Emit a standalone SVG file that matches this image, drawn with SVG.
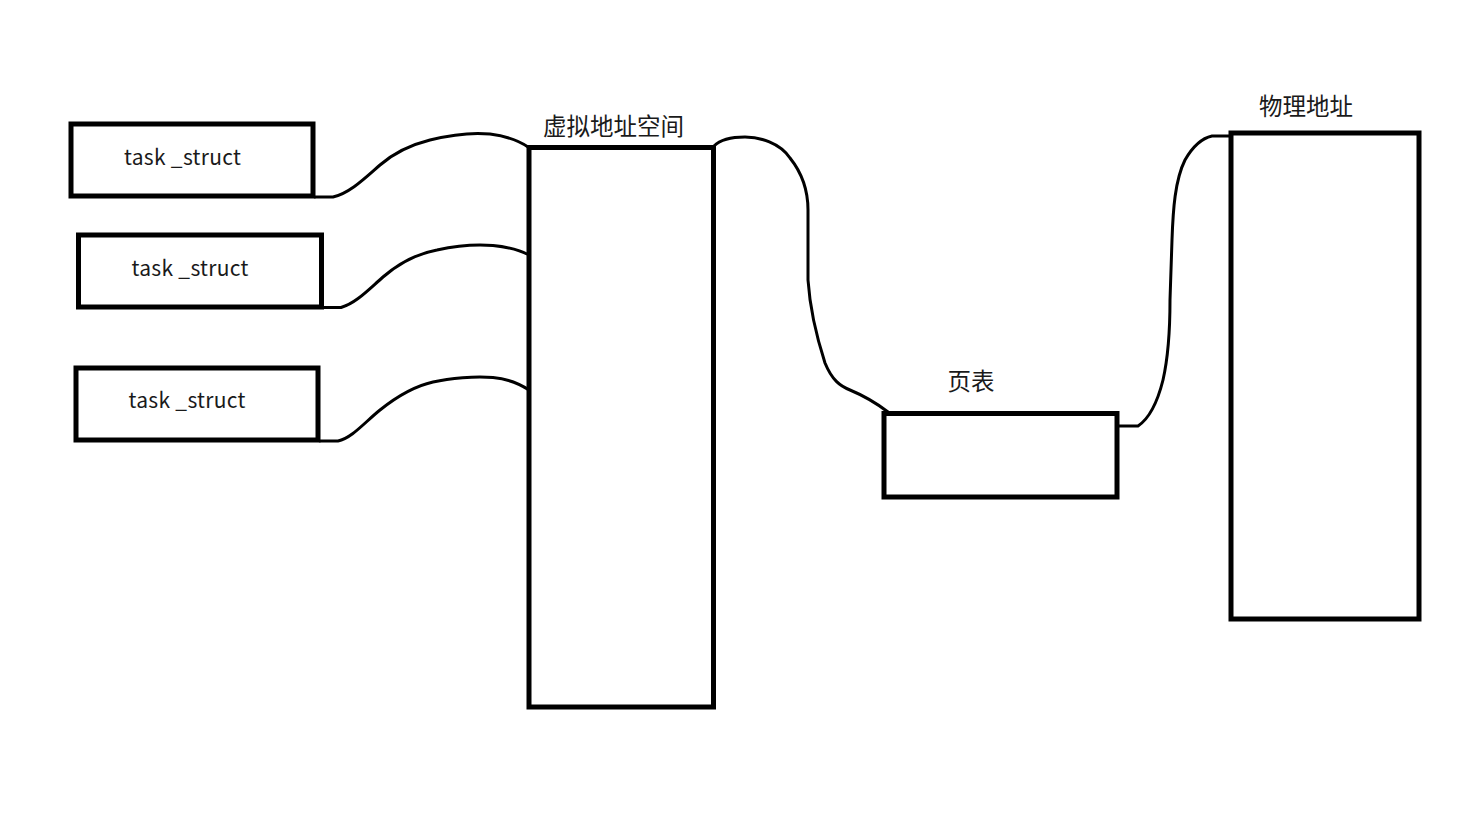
<svg xmlns="http://www.w3.org/2000/svg" width="1472" height="821" viewBox="0 0 1472 821">
<style>
.box{fill:#fff;stroke:#000;stroke-width:5}
.lbl{font-family:"Noto Sans CJK SC","Noto Sans",sans-serif;fill:#1a1a1a;text-anchor:middle}
.t{font-size:21px}
.c{font-size:23.5px}
.wire{fill:none;stroke:#000;stroke-width:3;stroke-linejoin:round;stroke-linecap:round}
</style>
<rect width="1472" height="821" fill="#fff"/>
<g id="connectors">
<path class="wire" d="M315,197 L333,197 C350,193 365,178 380,165 C395,152 410,145 430,140 C450,135 470,132 490,134 C505,136 518,140 528,147"/>
<path class="wire" d="M322,307.5 L341,307.5 C356,303 368,290 383,277 C398,264 415,254 437,250 C455,246 475,244 493,245.5 C508,247 520,250 529,255"/>
<path class="wire" d="M320,441 L338,441 C352,438 365,422 380,410 C395,398 415,386 433,382 C450,378 475,376 493,377.5 C508,379 520,384 529,390"/>
<path class="wire" d="M714,146 C720,140 730,137 745,137 C760,137 780,143 790,158 C802,173 808,190 808,210 L808,280 C810,310 816,335 825,363 C832,380 840,386 850,390 C862,395 875,402 888,412"/>
<path class="wire" d="M1119,426 L1138,426 C1150,418 1158,400 1163,380 C1168,358 1170,330 1170,300 L1172,240 C1173,210 1175,180 1185,160 C1193,146 1203,138 1212,136 L1229,136"/>
</g>
<g id="task1">
<rect class="box" x="71" y="124" width="242" height="72"/>
<text class="lbl t" x="182.5" y="165" textLength="117">task _struct</text>
</g>
<g id="task2">
<rect class="box" x="78.5" y="235" width="243" height="72"/>
<text class="lbl t" x="190" y="276" textLength="117">task _struct</text>
</g>
<g id="task3">
<rect class="box" x="76" y="368" width="242" height="72"/>
<text class="lbl t" x="187" y="408" textLength="117">task _struct</text>
</g>
<g id="virtual">
<rect class="box" x="529" y="147.5" width="184.5" height="559.5"/>
<text class="lbl c" x="613.5" y="135">虚拟地址空间</text>
</g>
<g id="pagetable">
<rect class="box" x="884" y="413.5" width="233" height="83.5"/>
<text class="lbl c" x="971" y="390">页表</text>
</g>
<g id="physical">
<rect class="box" x="1231" y="133" width="188" height="486"/>
<text class="lbl c" x="1306" y="115">物理地址</text>
</g>
</svg>
